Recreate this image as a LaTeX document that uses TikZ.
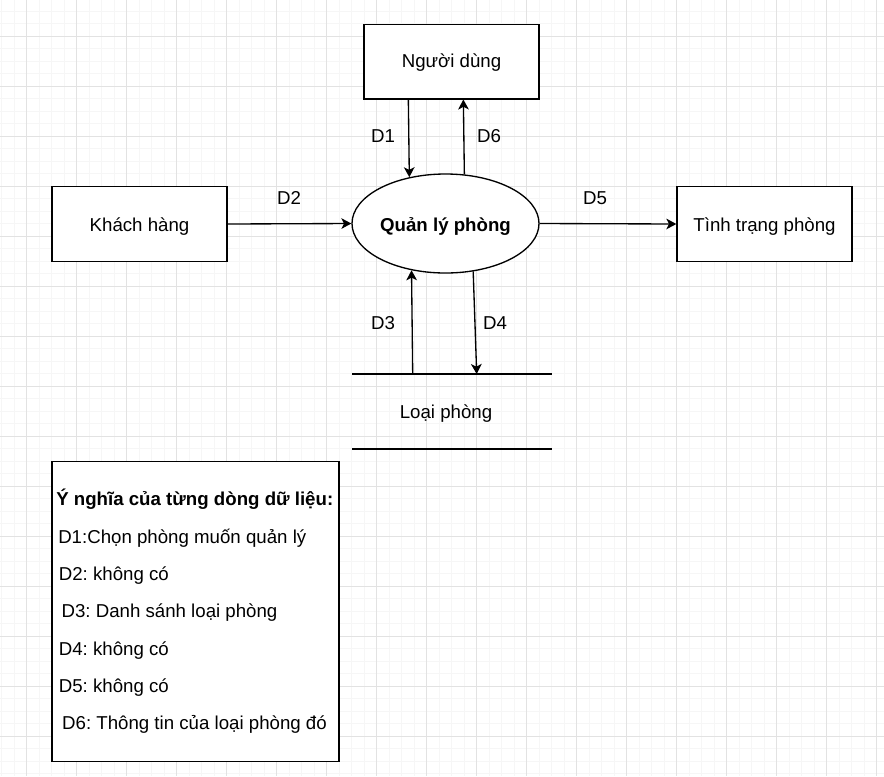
\documentclass[tikz,border=0pt]{standalone}
\usepackage{fontspec}
\setmainfont{Liberation Sans}
\frenchspacing
\usetikzlibrary{shapes.geometric,arrows.meta,calc}
\definecolor{gridminor}{HTML}{F6F6F6}
\definecolor{gridmajor}{HTML}{E2E2E2}
\begin{document}
\begin{tikzpicture}[x=0.75pt,y=-0.75pt,
  every node/.style={font=\fontsize{14}{16}\selectfont},
  box/.style={draw, line width=1pt, fill=white, minimum width=131.25pt, minimum height=56pt, inner sep=0, text height=11pt, text depth=0pt},
  procnode/.style={ellipse, draw, line width=1pt, fill=white, minimum width=140.25pt, minimum height=74.25pt, inner sep=0, text height=12pt, text depth=0pt, font=\fontsize{14}{16}\selectfont\bfseries},
  flow/.style={line width=1pt, -{Stealth[length=7.5pt,width=8pt,inset=2pt]}},
  lbl/.style={inner sep=0},
  legline/.style={inner sep=0, anchor=base west},
  storeline/.style={line width=1pt}]
\useasboundingbox (0,0) rectangle (884,776);
\fill[white] (0,0) rectangle (884,776);
% grid
\foreach \x in {1.7,14.2,...,884} \draw[gridminor, line width=0.75pt] (\x,0) -- (\x,776);
\foreach \y in {-1.5,11,...,776} \draw[gridminor, line width=0.75pt] (0,\y) -- (884,\y);
\foreach \x in {26.7,76.7,...,884} \draw[gridmajor, line width=0.75pt] (\x,0) -- (\x,776);
\foreach \y in {36,86,...,776} \draw[gridmajor, line width=0.75pt] (0,\y) -- (884,\y);

% nodes
\node[box, text height=9pt] (user) at (451.5,61.5) {Người dùng};
\node[box] (cust) at (139.5,224) {Khách hàng};
\node[box] (status) at (764.5,224) {Tình trạng phòng};
\node[procnode] (proc) at (445.5,223.5) {Quản lý phòng};

% data store
\coordinate (st1a) at (352,374);
\coordinate (st1b) at (552,374);
\coordinate (st2a) at (352,449);
\coordinate (st2b) at (552,449);
\draw[storeline] (st1a) -- (st1b);
\draw[storeline] (st2a) -- (st2b);
\node[lbl, anchor=base] (store) at (446,418.3) {Loại phòng};
\coordinate (d3s) at (412.7,374);
\coordinate (d4e) at (476.7,374);

% flows
\draw[flow] ($(user.south west)+(45,0)$) -- (proc.128.7);
\draw[flow] (proc.69.1) -- ($(user.south west)+(100,0)$);
\draw[flow] (cust.east) -- (proc.west);
\draw[flow] (proc.east) -- (status.west);
\draw[flow] (d3s) -- (proc.234.7);
\draw[flow] (proc.300.4) -- (d4e);

% flow labels
\node[lbl] (l1) at (383,136.3) {D1};
\node[lbl] (l6) at (489,136.3) {D6};
\node[lbl] (l2) at (289,198.3) {D2};
\node[lbl] (l5) at (595,198.3) {D5};
\node[lbl] (l3) at (383,323.3) {D3};
\node[lbl] (l4) at (495,323.3) {D4};

% legend
\node[draw, line width=1pt, fill=white, minimum width=215.25pt, minimum height=225pt, inner sep=0] (legend) at (195.5,611.7) {};
\node[legline, font=\fontsize{14}{16}\selectfont\bfseries] (t0) at (56,505) {Ý nghĩa của từng dòng dữ liệu:};
\node[legline] (t1) at (58,543.3) {D1:Chọn phòng muốn quản lý};
\node[legline] (t2) at (58.6,580) {D2: không có};
\node[legline] (t3) at (61.3,617.7) {D3: Danh sánh loại phòng};
\node[legline] (t4) at (58.6,655) {D4: không có};
\node[legline] (t5) at (58.6,692.7) {D5: không có};
\node[legline] (t6) at (61.9,729.5) {D6: Thông tin của loại phòng đó};
\end{tikzpicture}
\end{document}
